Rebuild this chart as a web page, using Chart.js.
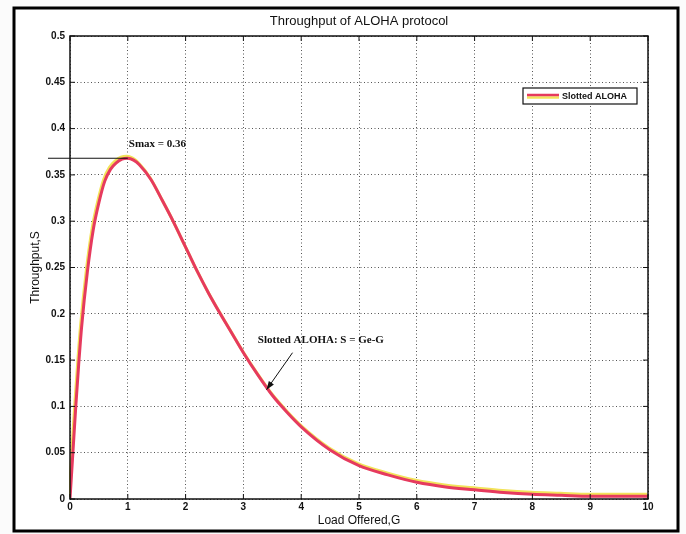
<!DOCTYPE html>
<html><head><meta charset="utf-8">
<script src="https://cdn.jsdelivr.net/npm/chart.js@4/dist/chart.umd.min.js"></script>
<style>html,body{margin:0;padding:0;background:#fff}#wrap{width:686px;height:534px}</style>
</head><body><div id="wrap"><canvas id="c" width="686" height="534"></canvas></div>
<script>
// ---- data ----
const loadG = [0, 0.05, 0.1, 0.15, 0.2, 0.3, 0.4, 0.5, 0.6, 0.7, 0.8, 0.9, 1.0, 1.1, 1.2, 1.4, 1.6, 1.8, 2.0, 2.2, 2.4, 2.6, 2.8, 3.0, 3.25, 3.5, 3.75, 4.0, 4.5, 5.0, 5.5, 6.0, 6.5, 7.0, 7.5, 8.0, 8.5, 9.0, 9.5, 10.0];
const throughputS = [0, 0.05, 0.10, 0.145, 0.185, 0.245, 0.29, 0.32, 0.343, 0.356, 0.363, 0.367, 0.368, 0.366, 0.361, 0.345, 0.322, 0.298, 0.272, 0.246, 0.222, 0.200, 0.179, 0.158, 0.134, 0.112, 0.094, 0.078, 0.053, 0.036, 0.026, 0.018, 0.013, 0.010, 0.007, 0.005, 0.004, 0.003, 0.003, 0.003];
const xTickValues = [0, 1, 2, 3, 4, 5, 6, 7, 8, 9, 10];
const yTickValues = [0, 0.05, 0.1, 0.15, 0.2, 0.25, 0.3, 0.35, 0.4, 0.45, 0.5];
const seriesName = 'Slotted ALOHA';
const chartTitle = 'Throughput of ALOHA protocol';
const xTitle = 'Load Offered,G';
const yTitle = 'Throughput,S';
const peakLabel = 'Smax = 0.36';
const peakPoint = [1.0, 0.368];
const formulaLabel = 'Slotted ALOHA: S = Ge-G';
const arrowFrom = [3.85, 0.158];
const arrowTo = [3.4, 0.118];

const points = loadG.map((g, i) => ({x: g, y: throughputS[i]}));

const decor = {
  id: 'decor',
  beforeDraw(chart) {
    const ctx = chart.ctx;
    ctx.save();
    ctx.fillStyle = '#fbfbfb';
    ctx.fillRect(0, 0, chart.width, chart.height);
    ctx.fillStyle = '#ffffff';
    ctx.fillRect(14, 8, 664, 523);
    ctx.restore();
  },
  beforeDatasetDraw(chart, args) {
    if (args.index === 1) { chart.ctx.save(); chart.ctx.translate(-1, -2); }
  },
  afterDatasetDraw(chart, args) {
    if (args.index === 1) chart.ctx.restore();
  },
  afterDraw(chart) {
    const ctx = chart.ctx, a = chart.chartArea;
    const xs = chart.scales.x, ys = chart.scales.y;
    ctx.save();
    // plot frame
    ctx.strokeStyle = '#111';
    ctx.lineWidth = 1.5;
    ctx.strokeRect(a.left, a.top, a.right - a.left, a.bottom - a.top);
    // inward ticks
    ctx.lineWidth = 1;
    xTickValues.forEach(v => {
      const px = xs.getPixelForValue(v);
      ctx.beginPath(); ctx.moveTo(px, a.bottom); ctx.lineTo(px, a.bottom - 5);
      ctx.moveTo(px, a.top); ctx.lineTo(px, a.top + 5); ctx.stroke();
    });
    yTickValues.forEach(v => {
      const py = ys.getPixelForValue(v);
      ctx.beginPath(); ctx.moveTo(a.left, py); ctx.lineTo(a.left + 5, py);
      ctx.moveTo(a.right, py); ctx.lineTo(a.right - 5, py); ctx.stroke();
    });
    // outer frame
    ctx.lineWidth = 3;
    ctx.strokeStyle = '#000';
    ctx.strokeRect(14, 8, 664, 523);
    // peak marker line
    const pkx = xs.getPixelForValue(peakPoint[0]), pky = ys.getPixelForValue(peakPoint[1]);
    ctx.lineWidth = 1.2;
    ctx.strokeStyle = '#111';
    ctx.beginPath(); ctx.moveTo(48, pky); ctx.lineTo(pkx, pky); ctx.stroke();
    ctx.fillStyle = '#111';
    ctx.font = 'bold 11px "Liberation Serif", "DejaVu Serif", serif';
    ctx.textBaseline = 'middle';
    ctx.textAlign = 'left';
    ctx.fillText(peakLabel, pkx + 1, pky - 14);
    // formula annotation
    ctx.fillText(formulaLabel, xs.getPixelForValue(3.25), ys.getPixelForValue(0.172));
    // arrow
    const ax1 = xs.getPixelForValue(arrowFrom[0]), ay1 = ys.getPixelForValue(arrowFrom[1]);
    const ax2 = xs.getPixelForValue(arrowTo[0]), ay2 = ys.getPixelForValue(arrowTo[1]);
    ctx.lineWidth = 1;
    ctx.beginPath(); ctx.moveTo(ax1, ay1); ctx.lineTo(ax2, ay2); ctx.stroke();
    const ang = Math.atan2(ay2 - ay1, ax2 - ax1);
    ctx.beginPath();
    ctx.moveTo(ax2, ay2);
    ctx.lineTo(ax2 - 9 * Math.cos(ang - 0.35), ay2 - 9 * Math.sin(ang - 0.35));
    ctx.lineTo(ax2 - 9 * Math.cos(ang + 0.35), ay2 - 9 * Math.sin(ang + 0.35));
    ctx.closePath(); ctx.fill();
    // legend box
    const lx = 523, ly = 88, lw = 114, lh = 16;
    ctx.fillStyle = '#fff';
    ctx.fillRect(lx, ly, lw, lh);
    ctx.lineWidth = 1.2;
    ctx.strokeStyle = '#111';
    ctx.strokeRect(lx, ly, lw, lh);
    ctx.lineWidth = 2.5;
    ctx.strokeStyle = '#f2e35a';
    ctx.beginPath(); ctx.moveTo(527, ly + 9.5); ctx.lineTo(559, ly + 9.5); ctx.stroke();
    ctx.strokeStyle = '#e63a5e';
    ctx.beginPath(); ctx.moveTo(527, ly + 7); ctx.lineTo(559, ly + 7); ctx.stroke();
    ctx.fillStyle = '#111';
    ctx.font = 'bold 9px "Liberation Sans Narrow", "Liberation Sans", Arial, sans-serif';
    ctx.fillText(seriesName, 562, ly + lh / 2 + 0.5);
    ctx.restore();
  }
};

new Chart(document.getElementById('c'), {
  type: 'line',
  data: {
    datasets: [
      {label: seriesName, data: points, borderColor: '#e63a5e', borderWidth: 3, pointRadius: 0, fill: false, cubicInterpolationMode: 'monotone'},
      {label: seriesName + ' (shadow)', data: points, borderColor: '#f2e35a', borderWidth: 3, pointRadius: 0, fill: false, cubicInterpolationMode: 'monotone'}
    ]
  },
  options: {
    responsive: false,
    animation: false,
    devicePixelRatio: 1,
    layout: {padding: {left: 0, right: 38, top: 0, bottom: 0}},
    plugins: {
      legend: {display: false},
      tooltip: {enabled: false},
      title: {display: true, text: chartTitle, fullSize: false, color: '#111',
        font: {family: '"Liberation Sans Narrow", "Liberation Sans", Arial, sans-serif', size: 13, weight: 'normal'},
        padding: {top: 14, bottom: 6.4}}
    },
    scales: {
      x: {
        type: 'linear', min: 0, max: 10,
        afterFit(s) { s.height = 35; },
        afterBuildTicks(s) { s.ticks = xTickValues.map(v => ({value: v})); },
        ticks: {color: '#111', padding: 2, font: {family: '"Liberation Sans", Arial, sans-serif', size: 10, weight: 'bold'}},
        grid: {color: '#555', lineWidth: 1, drawTicks: false},
        border: {display: false, dash: [1, 2.5]},
        title: {display: true, text: xTitle, color: '#111', padding: {top: 0, bottom: 6},
          font: {family: '"Liberation Sans Narrow", "Liberation Sans", Arial, sans-serif', size: 12}}
      },
      y: {
        type: 'linear', min: 0, max: 0.5,
        afterFit(s) { s.width = 70; },
        afterBuildTicks(s) { s.ticks = yTickValues.map(v => ({value: v})); },
        ticks: {color: '#111', padding: 5, font: {family: '"Liberation Sans", Arial, sans-serif', size: 10, weight: 'bold'},
          callback: v => String(v)},
        grid: {color: '#555', lineWidth: 1, drawTicks: false},
        border: {display: false, dash: [1, 2.5]},
        title: {display: true, text: yTitle, color: '#111', padding: {top: 28, bottom: 0},
          font: {family: '"Liberation Sans Narrow", "Liberation Sans", Arial, sans-serif', size: 12}}
      }
    }
  },
  plugins: [decor]
});
</script>
</body></html>
